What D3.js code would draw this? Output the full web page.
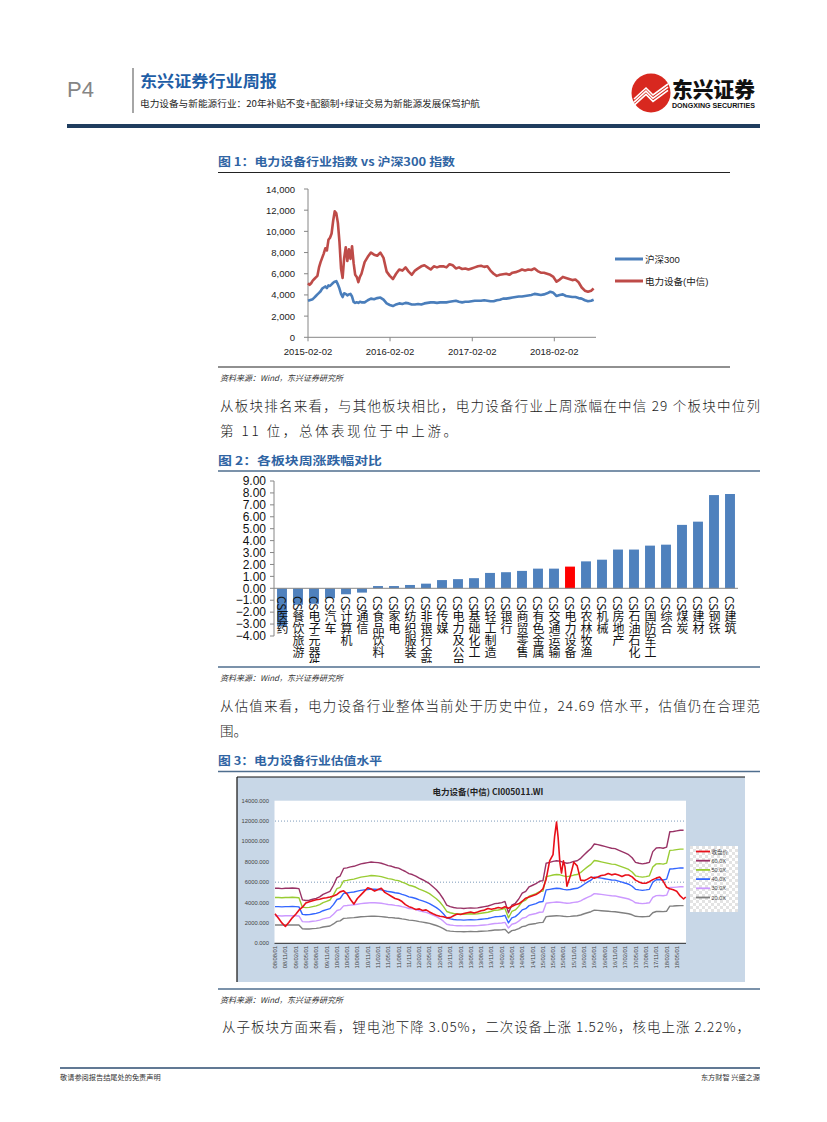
<!DOCTYPE html>
<html><head><meta charset="utf-8">
<script src="https://cdn.jsdelivr.net/npm/d3@7"></script>
<style>
html,body{margin:0;padding:0;background:#fff;}
svg{display:block;}
</style></head><body>
<svg id="page" width="827" height="1122"></svg>
<script>
// ---------------- Figure 1 data (电力设备行业指数 vs 沪深300) ----------------
const fig1Dates = [
"2015-02-02","2015-02-09","2015-02-16","2015-02-23","2015-03-02","2015-03-09","2015-03-16","2015-03-23","2015-03-30","2015-04-06",
"2015-04-13","2015-04-20","2015-04-27","2015-05-04","2015-05-11","2015-05-18","2015-05-25","2015-06-01","2015-06-08","2015-06-15",
"2015-06-22","2015-06-29","2015-07-06","2015-07-13","2015-07-20","2015-07-27","2015-08-03","2015-08-10","2015-08-17","2015-08-24",
"2015-08-31","2015-09-07","2015-09-14","2015-09-21","2015-09-28",
"2015-10-12","2015-10-26","2015-11-09","2015-11-23","2015-12-07","2015-12-21",
"2016-01-04","2016-01-18","2016-02-01","2016-02-15","2016-02-29","2016-03-14","2016-03-28","2016-04-11","2016-04-25","2016-05-09",
"2016-05-23","2016-06-06","2016-06-20","2016-07-04","2016-07-18","2016-08-01","2016-08-15","2016-08-29","2016-09-12","2016-09-26",
"2016-10-10","2016-10-24","2016-11-07","2016-11-21","2016-12-05","2016-12-19",
"2017-01-02","2017-01-16","2017-01-30","2017-02-13","2017-02-27","2017-03-13","2017-03-27","2017-04-10","2017-04-24","2017-05-08",
"2017-05-22","2017-06-05","2017-06-19","2017-07-03","2017-07-17","2017-07-31","2017-08-14","2017-08-28","2017-09-11","2017-09-25",
"2017-10-09","2017-10-23","2017-11-06","2017-11-20","2017-12-04","2017-12-18",
"2018-01-01","2018-01-15","2018-01-29","2018-02-12","2018-02-26","2018-03-12","2018-03-26","2018-04-09","2018-04-23","2018-05-07",
"2018-05-21","2018-06-04","2018-06-18","2018-07-02","2018-07-16","2018-07-27"];
const hs300 = [
3450,3500,3550,3600,3750,3900,4050,4200,4350,4600,
4700,4800,4650,4900,4850,5000,5150,5250,5300,5000,
4600,4100,3800,4150,4100,3950,4050,4100,3850,3350,
3250,3300,3250,3350,3300,
3300,3500,3650,3600,3700,3750,
3550,3200,3050,2950,3100,3200,3150,3250,3200,3100,
3100,3150,3100,3200,3250,3300,3300,3250,3300,3300,
3300,3350,3400,3450,3350,3300,
3350,3350,3400,3450,3450,3450,3500,3450,3400,3400,
3500,3550,3650,3650,3700,3750,3800,3850,3850,3900,
3950,4000,4100,4050,4000,4050,
4150,4300,4200,3900,4000,4050,3900,3850,3800,3800,
3700,3650,3500,3400,3450,3550];
const powerEquip = [
5100,4950,5100,5350,5500,5650,5800,6600,7100,7500,
7900,8400,8200,9200,9400,9800,11000,11900,11700,10800,
9000,6500,5600,7500,8500,7200,8300,7400,8600,7000,
5900,5700,5200,5700,6000,
7100,7600,8000,7800,7700,8000,
7500,6200,5800,5500,6000,6400,6300,6600,6200,5900,
6300,6500,6700,6800,6600,6400,6700,6600,6700,6700,
6600,6900,6800,6500,6600,6450,
6500,6400,6500,6600,6700,6750,6650,6700,6300,6000,
5800,5900,5950,6000,5900,6100,6150,6250,6400,6300,
6400,6350,6500,6250,6100,6100,
6000,5900,5700,5250,5450,5700,5600,5500,5400,5450,
5200,4700,4400,4300,4400,4600];
const fig1SeriesNames = ["沪深300","电力设备(中信)"];
const fig1YTicks = [0,2000,4000,6000,8000,10000,12000,14000];
const fig1XTicks = ["2015-02-02","2016-02-02","2017-02-02","2018-02-02"];

// ---------------- Figure 2 data (各板块周涨跌幅对比) ----------------
const sectors = ["CS医药","CS餐饮旅游","CS电子元器件","CS汽车","CS计算机","CS通信","CS食品饮料","CS家电","CS纺织服装","CS非银行金融",
"CS传媒","CS电力及公用事业","CS基础化工","CS轻工制造","CS银行","CS商贸零售","CS有色金属","CS交通运输","CS电力设备","CS农林牧渔",
"CS机械","CS房地产","CS石油石化","CS国防军工","CS综合","CS煤炭","CS建材","CS钢铁","CS建筑"];
const weeklyChange = [-3.2,-1.38,-1.3,-0.83,-0.5,-0.36,0.19,0.19,0.28,0.39,
0.69,0.77,0.85,1.29,1.35,1.46,1.65,1.65,1.82,2.26,
2.40,3.25,3.25,3.58,3.66,5.32,5.59,7.82,7.91];
const highlightSector = "CS电力设备";
const fig2YTicks = [-4,-3,-2,-1,0,1,2,3,4,5,6,7,8,9];

// ---------------- Figure 3 data (PE Band, 电力设备(中信) CI005011.WI) ----------------
const bandMonths = [
"2008-08","2008-09","2008-10","2008-11","2008-12",
"2009-01","2009-02","2009-03","2009-04","2009-05","2009-06","2009-07","2009-08","2009-09","2009-10","2009-11","2009-12",
"2010-01","2010-02","2010-03","2010-04","2010-05","2010-06","2010-07","2010-08","2010-09","2010-10","2010-11","2010-12",
"2011-01","2011-02","2011-03","2011-04","2011-05","2011-06","2011-07","2011-08","2011-09","2011-10","2011-11","2011-12",
"2012-01","2012-02","2012-03","2012-04","2012-05","2012-06","2012-07","2012-08","2012-09","2012-10","2012-11","2012-12",
"2013-01","2013-02","2013-03","2013-04","2013-05","2013-06","2013-07","2013-08","2013-09","2013-10","2013-11","2013-12",
"2014-01","2014-02","2014-03","2014-04","2014-05","2014-06","2014-07","2014-08","2014-09","2014-10","2014-11","2014-12",
"2015-01","2015-02","2015-03","2015-04","2015-05","2015-06","2015-07","2015-08","2015-09","2015-10","2015-11","2015-12",
"2016-01","2016-02","2016-03","2016-04","2016-05","2016-06","2016-07","2016-08","2016-09","2016-10","2016-11","2016-12",
"2017-01","2017-02","2017-03","2017-04","2017-05","2017-06","2017-07","2017-08","2017-09","2017-10","2017-11","2017-12",
"2018-01","2018-02","2018-03","2018-04","2018-05","2018-06","2018-07"];
// index level implied by 20X PE (base band); other bands scale by multiple
const band20X = [
1800,1800,1790,1800,1800,
1810,1800,1790,1420,1400,1410,1440,1470,1520,1600,1650,1700,
1900,2150,2200,2450,2470,2500,2520,2560,2600,2620,2640,2660,
2650,2640,2620,2580,2540,2520,2480,2460,2400,2350,2280,2250,
2200,2130,2080,2020,1950,1850,1750,1620,1450,1250,1200,1170,
1150,1150,1140,1150,1160,1150,1160,1180,1200,1220,1260,1300,
1310,1330,1370,1000,1250,1310,1450,1640,1700,1850,1900,1950,
2030,2050,2620,2650,2680,2700,2690,2650,2620,2640,2680,2700,
2780,2900,3000,3100,3250,3230,3200,3170,3140,3110,3100,3050,
3000,2950,2900,2800,2650,2620,2600,2620,2650,3000,3120,3130,
3110,3150,3650,3660,3680,3700,3700];
const bandMultiples = [60,50,40,30,20];
const bandLabels = ["60.0X","50.0X","40.0X","30.0X","20.0X"];
const closeDates = [
"2008-08-01","2008-09-01","2008-10-01","2008-11-01","2008-12-01",
"2009-01-01","2009-02-01","2009-03-01","2009-04-01","2009-05-01","2009-06-01","2009-07-01","2009-08-01","2009-09-01","2009-10-01","2009-11-01","2009-12-01",
"2010-01-01","2010-02-01","2010-03-01","2010-04-01","2010-05-01","2010-06-01","2010-07-01","2010-08-01","2010-09-01","2010-10-01","2010-11-01","2010-12-01",
"2011-01-01","2011-02-01","2011-03-01","2011-04-01","2011-05-01","2011-06-01","2011-07-01","2011-08-01","2011-09-01","2011-10-01","2011-11-01","2011-12-01",
"2012-01-01","2012-02-01","2012-03-01","2012-04-01","2012-05-01","2012-06-01","2012-07-01","2012-08-01","2012-09-01","2012-10-01","2012-11-01","2012-12-01",
"2013-01-01","2013-02-01","2013-03-01","2013-04-01","2013-05-01","2013-06-01","2013-07-01","2013-08-01","2013-09-01","2013-10-01","2013-11-01","2013-12-01",
"2014-01-01","2014-02-01","2014-03-01","2014-04-01","2014-05-01","2014-06-01","2014-07-01","2014-08-01","2014-09-01","2014-10-01","2014-11-01","2014-12-01",
"2015-01-01","2015-02-01","2015-03-01","2015-04-01","2015-05-01","2015-05-15","2015-06-01","2015-06-15","2015-07-01","2015-07-15","2015-08-01","2015-08-15","2015-09-01","2015-10-01","2015-11-01","2015-12-01",
"2016-01-01","2016-02-01","2016-03-01","2016-04-01","2016-05-01","2016-06-01","2016-07-01","2016-08-01","2016-09-01","2016-10-01","2016-11-01","2016-12-01",
"2017-01-01","2017-02-01","2017-03-01","2017-04-01","2017-05-01","2017-06-01","2017-07-01","2017-08-01","2017-09-01","2017-10-01","2017-11-01","2017-12-01",
"2018-01-01","2018-02-01","2018-03-01","2018-04-01","2018-05-01","2018-06-01","2018-07-01","2018-07-20"];
const closePrice = [
2900,2450,2000,1650,2050,
2500,2850,3250,3550,3950,4080,4180,4270,4330,4420,4470,4550,
4650,4800,5050,5150,4850,4300,3850,4400,4750,5100,5450,5330,
5120,5280,5400,5000,4800,4600,4400,4300,4100,3800,3600,3480,
3320,3380,3220,3280,3080,2900,2760,2660,2600,2500,2520,2700,
2880,2830,2920,3000,3080,2980,3070,3190,3260,3410,3350,3420,
3520,3440,3590,3440,3610,3780,3880,4130,4430,4540,4660,4780,
5000,5350,6300,8100,8700,10500,11900,10400,7900,6900,8100,7500,5600,6600,7950,7600,
6200,6150,6300,6500,6400,6500,6650,6700,6850,6720,6800,6700,
6550,6700,6700,6520,6200,6030,5900,5900,6050,6250,6400,6500,
6100,5500,5350,5250,5100,4650,4350,4550];
const fig3XTickLabels = ["08/08/01","08/11/01","09/02/01","09/05/01","09/08/01","09/11/01","10/02/01","10/05/01","10/08/01","10/11/01",
"11/02/01","11/05/01","11/08/01","11/11/01","12/02/01","12/05/01","12/08/01","12/11/01","13/02/01","13/05/01",
"13/08/01","13/11/01","14/02/01","14/05/01","14/08/01","14/11/01","15/02/01","15/05/01","15/08/01","15/11/01",
"16/02/01","16/05/01","16/08/01","16/11/01","17/02/01","17/05/01","17/08/01","17/11/01","18/02/01","18/05/01"];
const fig3YTicks = [0,2000,4000,6000,8000,10000,12000,14000];
const fig3Gridlines = [6000,12000];

// ---------------- drawing ----------------
const svg = d3.select("#page");
const SANS = '"Liberation Sans", Arial, "Noto Sans CJK SC", sans-serif';
const CJK = '"Noto Sans CJK SC", "Liberation Sans", sans-serif';
function T(x, y, s, o = {}) {
  const t = svg.append("text").attr("x", x).attr("y", y).text(s)
    .attr("font-family", o.family || CJK).attr("font-size", o.size || 12)
    .attr("fill", o.fill || "#222");
  if (o.weight) t.attr("font-weight", o.weight);
  if (o.anchor) t.attr("text-anchor", o.anchor);
  if (o.italic) t.attr("font-style", "italic");
  if (o.len) t.attr("textLength", o.len).attr("lengthAdjust", o.adj || "spacingAndGlyphs");
  return t;
}
function rule(x1, x2, y, color, w) {
  svg.append("line").attr("x1", x1).attr("x2", x2).attr("y1", y).attr("y2", y)
    .attr("stroke", color).attr("stroke-width", w);
}

// header
T(67, 97, "P4", {family: SANS, size: 22, fill: "#858585"});
svg.append("rect").attr("x", 132).attr("y", 68).attr("width", 2).attr("height", 45).attr("fill", "#a6a6a6");
T(140, 87, "东兴证券行业周报", {size: 15.5, weight: "bold", fill: "#1f5ea6", len: 137});
T(140, 107, "电力设备与新能源行业：20年补贴不变+配额制+绿证交易为新能源发展保驾护航", {size: 8.6, fill: "#222", len: 340});
// logo
svg.append("circle").attr("cx", 651).attr("cy", 93).attr("r", 19.5).attr("fill", "#d8281f");
[0, 3.2, 6.4].forEach(o => {
  svg.append("path").attr("d", `M${634},${99 + o} L${646},${88 + o} L${653},${95 + o} L${668},${84 + o}`)
    .attr("fill", "none").attr("stroke", "#fff").attr("stroke-width", 1.6);
});
T(672, 97, "东兴证券", {size: 21, weight: "900", fill: "#111", len: 83});
T(672, 107.5, "DONGXING SECURITIES", {family: SANS, size: 6.5, weight: "bold", fill: "#111", len: 83});
svg.append("rect").attr("x", 67).attr("y", 124).attr("width", 693).attr("height", 4).attr("fill", "#1f3d5e");

// ---------- Figure 1 ----------
T(218, 166, "图 1：电力设备行业指数 vs 沪深300 指数", {size: 11.5, weight: "bold", fill: "#2f64a3", len: 237});
rule(218, 730, 172.5, "#222", 1.2);
{
  const parse = d3.timeParse("%Y-%m-%d");
  const x = d3.scaleTime().domain([parse("2015-02-02"), parse("2018-02-02")]).range([308, 554.3]);
  const y = d3.scaleLinear().domain([0, 14000]).range([337.3, 189]);
  const g = svg.append("g");
  g.append("line").attr("x1", 308).attr("x2", 308).attr("y1", 189).attr("y2", 337.3).attr("stroke", "#868686");
  g.append("line").attr("x1", 308).attr("x2", 596).attr("y1", 337.3).attr("y2", 337.3).attr("stroke", "#868686");
  fig1YTicks.forEach(v => {
    g.append("line").attr("x1", 304).attr("x2", 308).attr("y1", y(v)).attr("y2", y(v)).attr("stroke", "#868686");
    g.append("text").attr("x", 295).attr("y", y(v) + 3.5).attr("text-anchor", "end")
      .attr("font-family", SANS).attr("font-size", 9.5).attr("fill", "#222").text(d3.format(",")(v));
  });
  fig1XTicks.forEach(d => {
    const xx = x(parse(d));
    g.append("line").attr("x1", xx).attr("x2", xx).attr("y1", 337.3).attr("y2", 341.3).attr("stroke", "#868686");
    g.append("text").attr("x", xx).attr("y", 355).attr("text-anchor", "middle")
      .attr("font-family", SANS).attr("font-size", 9.5).attr("fill", "#222").text(d);
  });
  const dates = fig1Dates.map(parse);
  const colors = ["#4a7ebb", "#be4b48"];
  [hs300, powerEquip].forEach((vals, i) => {
    const line = d3.line().x((v, j) => x(dates[j])).y(v => y(v));
    g.append("path").attr("d", line(vals)).attr("fill", "none").attr("stroke", colors[i])
      .attr("stroke-width", 2.6).attr("stroke-linejoin", "round");
  });
  fig1SeriesNames.forEach((n, i) => {
    const yy = 259 + i * 22;
    g.append("line").attr("x1", 615).attr("x2", 643).attr("y1", yy).attr("y2", yy).attr("stroke", colors[i]).attr("stroke-width", 3);
    g.append("text").attr("x", 645).attr("y", yy + 3.5).attr("font-family", SANS).attr("font-size", 9.5).attr("fill", "#222").text(n);
  });
}
rule(218, 730, 367, "#222", 1.2);
T(220, 381, "资料来源：Wind，东兴证券研究所", {size: 8, italic: true, fill: "#333"});
T(220, 411, "从板块排名来看，与其他板块相比，电力设备行业上周涨幅在中信 29 个板块中位列", {size: 13.5, weight: 300, fill: "#1a1a1a", len: 540, adj: "spacing"});
T(220, 436, "第 11 位，总体表现位于中上游。", {size: 13.5, weight: 300, fill: "#1a1a1a", len: 237, adj: "spacing"});

// ---------- Figure 2 ----------
T(218, 465, "图 2：各板块周涨跌幅对比", {size: 11.5, weight: "bold", fill: "#2f64a3", len: 164});
rule(218, 760, 471, "#4f6e8e", 1.5);
{
  const x = d3.scaleBand().domain(sectors).range([274, 738]).paddingInner(0.38).paddingOuter(0.19);
  const y = d3.scaleLinear().domain([-4, 9]).range([636, 481]);
  const g = svg.append("g");
  g.selectAll("rect.bar").data(sectors).join("rect").attr("class", "bar")
    .attr("x", d => x(d)).attr("width", x.bandwidth())
    .attr("y", (d, i) => y(Math.max(0, weeklyChange[i])))
    .attr("height", (d, i) => Math.abs(y(weeklyChange[i]) - y(0)))
    .attr("fill", d => d === highlightSector ? "#ff0000" : "#4f81bd");
  g.append("line").attr("x1", 274).attr("x2", 274).attr("y1", 481).attr("y2", 636).attr("stroke", "#868686");
  g.append("line").attr("x1", 274).attr("x2", 738).attr("y1", y(0)).attr("y2", y(0)).attr("stroke", "#868686");
  fig2YTicks.forEach(v => {
    g.append("line").attr("x1", 270).attr("x2", 274).attr("y1", y(v)).attr("y2", y(v)).attr("stroke", "#868686");
    g.append("text").attr("x", 266).attr("y", y(v) + 4.2).attr("text-anchor", "end")
      .attr("font-family", SANS).attr("font-size", 12).attr("fill", "#111").text(d3.format(".2f")(v));
  });
  svg.append("clipPath").attr("id", "lblclip").append("rect").attr("x", 260).attr("y", 590).attr("width", 500).attr("height", 73);
  const lg = g.append("g").attr("clip-path", "url(#lblclip)");
  sectors.forEach(s => {
    lg.append("text").attr("x", x(s) + x.bandwidth() / 2 + 0.5).attr("y", 596)
      .style("writing-mode", "vertical-rl")
      .attr("font-family", CJK).attr("font-size", 12).attr("fill", "#111").text(s);
  });
}
rule(218, 760, 667, "#4f6e8e", 1.5);
T(220, 681, "资料来源：Wind，东兴证券研究所", {size: 8, italic: true, fill: "#333"});
T(220, 711, "从估值来看，电力设备行业整体当前处于历史中位，24.69 倍水平，估值仍在合理范", {size: 13.5, weight: 300, fill: "#1a1a1a", len: 540, adj: "spacing"});
T(220, 736, "围。", {size: 13.5, weight: 300, fill: "#1a1a1a"});

// ---------- Figure 3 ----------
T(218, 765, "图 3：电力设备行业估值水平", {size: 11.5, weight: "bold", fill: "#2f64a3", len: 164});
rule(218, 760, 771.5, "#4f6e8e", 1.5);
{
  const g = svg.append("g");
  g.append("rect").attr("x", 237).attr("y", 777).attr("width", 508).attr("height", 205).attr("fill", "#c8d7e7");
  g.append("line").attr("x1", 237).attr("x2", 745).attr("y1", 777).attr("y2", 777).attr("stroke", "#111").attr("stroke-width", 1);
  g.append("line").attr("x1", 237).attr("x2", 237).attr("y1", 777).attr("y2", 982).attr("stroke", "#111").attr("stroke-width", 1.2);
  g.append("rect").attr("x", 274.5).attr("y", 800.7).attr("width", 411.5).attr("height", 142.6).attr("fill", "#fff");
  g.append("text").attr("x", 488).attr("y", 795).attr("text-anchor", "middle").attr("font-family", CJK)
    .attr("font-size", 8.5).attr("font-weight", "bold").attr("fill", "#222").text("电力设备(中信) CI005011.WI");
  const x = d3.scaleTime().domain([new Date(2008, 7, 1), new Date(2018, 4, 1)]).range([275, 676.7]);
  const y = d3.scaleLinear().domain([0, 14000]).range([943.3, 800.7]);
  fig3Gridlines.forEach(v => {
    g.append("line").attr("x1", 275).attr("x2", 686).attr("y1", y(v)).attr("y2", y(v))
      .attr("stroke", "#5b7fa8").attr("stroke-width", 0.8).attr("stroke-dasharray", "1,2");
  });
  fig3YTicks.forEach(v => {
    g.append("text").attr("x", 269).attr("y", y(v) + 2).attr("text-anchor", "end").attr("font-family", SANS)
      .attr("font-size", 5.8).attr("fill", "#444").text(d3.format(".3f")(v));
  });
  const pm = d3.timeParse("%Y-%m");
  const bd = bandMonths.map(pm);
  const bandColors = ["#993366", "#99cc33", "#3366ff", "#cc99ff", "#808080"];
  bandMultiples.forEach((m, i) => {
    const line = d3.line().x((v, j) => x(bd[j])).y(v => y(v * m / 20));
    g.append("path").attr("d", line(band20X)).attr("fill", "none").attr("stroke", bandColors[i])
      .attr("stroke-width", 1.4).attr("stroke-linejoin", "round");
  });
  const pd = d3.timeParse("%Y-%m-%d");
  const cd = closeDates.map(pd);
  const cl = d3.line().x((v, j) => x(cd[j])).y(v => y(v));
  g.append("path").attr("d", cl(closePrice)).attr("fill", "none").attr("stroke", "#e8101a")
    .attr("stroke-width", 1.6).attr("stroke-linejoin", "round");
  g.append("line").attr("x1", 274.5).attr("x2", 686).attr("y1", 943.3).attr("y2", 943.3).attr("stroke", "#111").attr("stroke-width", 0.9);
  const pt = d3.timeParse("%y/%m/%d");
  fig3XTickLabels.forEach(l => {
    const xx = x(pt(l));
    g.append("text").attr("transform", `translate(${xx + 2},946) rotate(-90)`).attr("text-anchor", "end")
      .attr("font-family", SANS).attr("font-size", 5.8).attr("fill", "#444").text(l);
  });
  // legend
  const defs = svg.append("defs");
  const pat = defs.append("pattern").attr("id", "chk").attr("width", 6).attr("height", 6).attr("patternUnits", "userSpaceOnUse");
  pat.append("rect").attr("width", 6).attr("height", 6).attr("fill", "#ffffff");
  pat.append("rect").attr("width", 3).attr("height", 3).attr("fill", "#e3e3e3");
  pat.append("rect").attr("x", 3).attr("y", 3).attr("width", 3).attr("height", 3).attr("fill", "#e3e3e3");
  g.append("rect").attr("x", 690).attr("y", 846).attr("width", 48).attr("height", 66).attr("fill", "url(#chk)");
  const legNames = ["收盘价"].concat(bandLabels);
  const legColors = ["#e8101a"].concat(bandColors);
  legNames.forEach((n, i) => {
    const yy = 851.5 + i * 9.2;
    g.append("line").attr("x1", 696).attr("x2", 710).attr("y1", yy).attr("y2", yy).attr("stroke", legColors[i]).attr("stroke-width", 1.8);
    g.append("text").attr("x", 711.5).attr("y", yy + 2).attr("font-family", SANS).attr("font-size", 5.5).attr("fill", "#444").text(n);
  });
}
rule(218, 760, 989, "#4f6e8e", 1.5);
T(220, 1003, "资料来源：Wind，东兴证券研究所", {size: 8, italic: true, fill: "#333"});
T(222, 1032, "从子板块方面来看，锂电池下降 3.05%，二次设备上涨 1.52%，核电上涨 2.22%，", {size: 13.5, weight: 300, fill: "#1a1a1a", len: 528, adj: "spacing"});

// footer
rule(60, 760, 1068, "#2d4d70", 1.5);
T(60, 1080, "敬请参阅报告结尾处的免责声明", {size: 7.2, fill: "#333"});
T(760, 1080, "东方财智 兴盛之源", {size: 7.2, fill: "#333", anchor: "end"});
</script></body></html>
